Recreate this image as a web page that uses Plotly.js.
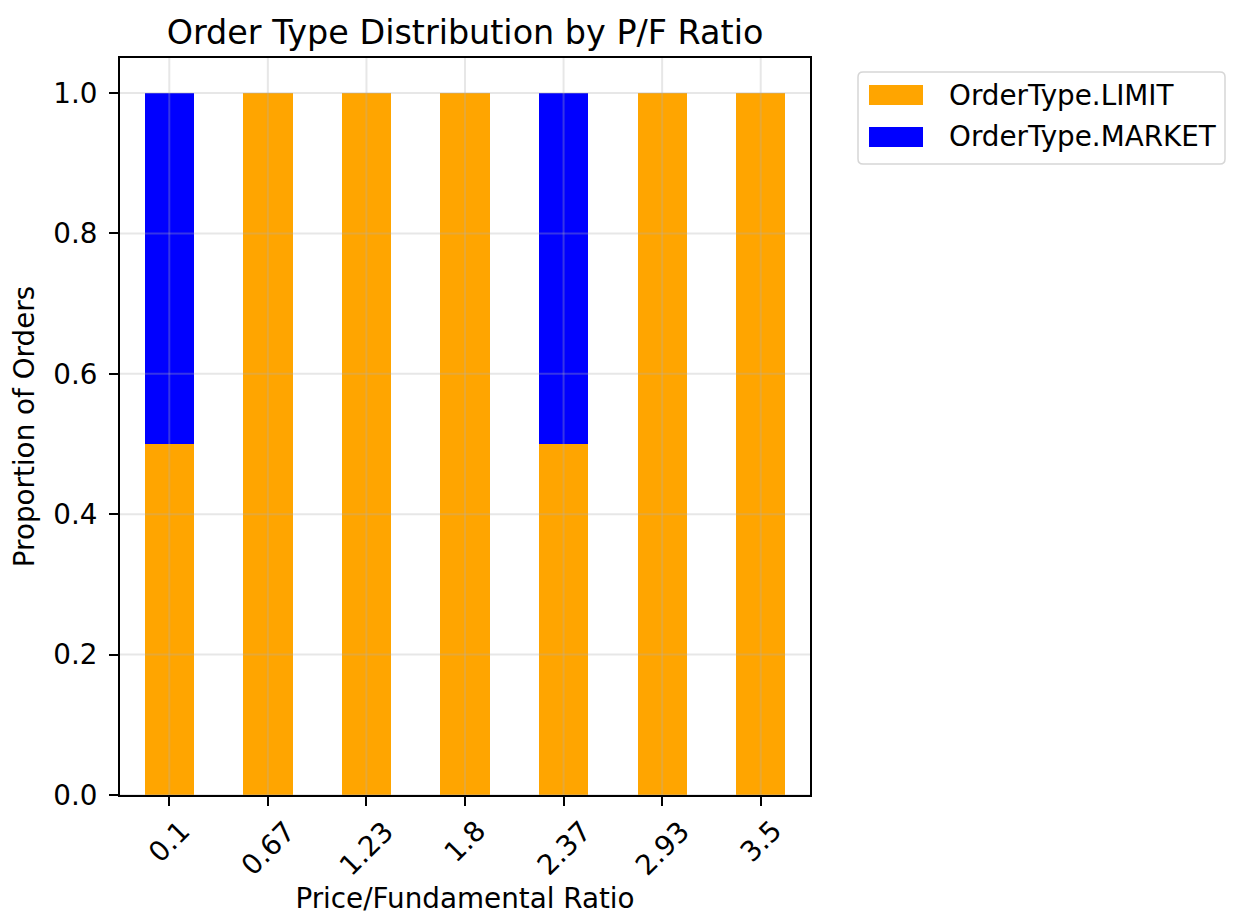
<!DOCTYPE html>
<html>
<head>
<meta charset="utf-8">
<script src="https://cdn.plot.ly/plotly-3.0.1.min.js"></script>
<style>html,body{margin:0;padding:0;background:#fff;}#chart{width:1233px;height:919px;}</style>
</head>
<body>
<div id="chart"></div>
<script>
// ---- data ----
const categories = ["0.1", "0.67", "1.23", "1.8", "2.37", "2.93", "3.5"];
const limitValues = [0.5, 1.0, 1.0, 1.0, 0.5, 1.0, 1.0];
const marketValues = [0.5, 0.0, 0.0, 0.0, 0.5, 0.0, 0.0];
const seriesNames = ["OrderType.LIMIT", "OrderType.MARKET"];
const seriesColors = ["#FFA500", "#0000FF"];
const yTickValues = [0.0, 0.2, 0.4, 0.6, 0.8, 1.0];
const titleText = "Order Type Distribution by P/F Ratio";
const xTitle = "Price/Fundamental Ratio";
const yTitle = "Proportion of Orders";

// ---- layout helpers ----
const W = 1233, H = 919;
const L = 120, R = 810, T = 58, B = 795;
const FONT = "DejaVu Sans, sans-serif";
const FS = 27.8;
const px = x => (x - L) / (R - L);
const py = y => (B - y) / (B - T);

const seriesValues = [limitValues, marketValues];
const traces = seriesValues.map((vals, i) => ({
  type: "bar",
  x: categories,
  y: vals,
  name: seriesNames[i],
  width: 0.5,
  marker: {color: seriesColors[i], line: {width: 0}},
  showlegend: false,
  hoverinfo: "x+y+name"
}));

const gridColor = "rgba(176,176,176,0.3)";
const shapes = [];
// grid lines drawn above bars (as in the reference); category positions by index
categories.forEach((c, i) => shapes.push({
  type: "line", xref: "x", yref: "paper", x0: i, x1: i, y0: 0, y1: 1,
  line: {color: gridColor, width: 2}, layer: "above"
}));
yTickValues.forEach(v => shapes.push({
  type: "line", xref: "paper", yref: "y", x0: 0, x1: 1, y0: v, y1: v,
  line: {color: gridColor, width: 2}, layer: "above"
}));

// legend box (rounded rect)
(function () {
  const x0 = 858, x1 = 1225, y0 = 72, y1 = 164, r = 5;
  const P = (x, y) => px(x) + "," + py(y);
  const path = "M" + P(x0 + r, y0) + " L" + P(x1 - r, y0) + " Q" + P(x1, y0) + " " + P(x1, y0 + r) +
    " L" + P(x1, y1 - r) + " Q" + P(x1, y1) + " " + P(x1 - r, y1) +
    " L" + P(x0 + r, y1) + " Q" + P(x0, y1) + " " + P(x0, y1 - r) +
    " L" + P(x0, y0 + r) + " Q" + P(x0, y0) + " " + P(x0 + r, y0) + " Z";
  shapes.push({type: "path", xref: "paper", yref: "paper", path: path,
    line: {color: "#d6d6d6", width: 1.5}, fillcolor: "rgba(255,255,255,0.8)", layer: "above"});
})();

const annotations = [];
const legendRows = [95, 137];
seriesNames.forEach((n, i) => {
  const yc = legendRows[i];
  shapes.push({type: "rect", xref: "paper", yref: "paper",
    x0: px(869), x1: px(923), y0: py(yc - 10), y1: py(yc + 10),
    fillcolor: seriesColors[i], line: {width: 0}, layer: "above"});
  annotations.push({xref: "paper", yref: "paper", x: px(947), y: py(yc),
    xanchor: "left", yanchor: "middle", text: n, showarrow: false,
    font: {family: FONT, size: FS, color: "#000"}});
});

// rotated x tick labels, centred on the ticks like the reference
categories.forEach((c, i) => annotations.push({
  xref: "x", yref: "paper", x: i, y: 0, yshift: -18,
  xanchor: "center", yanchor: "top", textangle: -45,
  text: c, showarrow: false, borderpad: 0,
  font: {family: FONT, size: FS, color: "#000"}
}));

const layout = {
  width: W, height: H,
  margin: {l: L, r: W - R, t: T, b: H - B, pad: 0},
  paper_bgcolor: "#fff", plot_bgcolor: "#fff",
  barmode: "stack",
  font: {family: FONT, size: FS, color: "#000"},
  title: {text: titleText, x: 0.5, xref: "paper", xanchor: "center",
    y: 1, yref: "paper", yanchor: "bottom", pad: {b: 14},
    font: {family: FONT, size: 33.4, color: "#000"}},
  xaxis: {
    type: "category", range: [-0.5, categories.length - 0.5],
    showgrid: false, zeroline: false,
    showline: true, mirror: true, linecolor: "#000", linewidth: 2,
    ticks: "outside", ticklen: 9, tickwidth: 2, tickcolor: "#000",
    showticklabels: false,
    title: {text: xTitle, standoff: 84, font: {family: FONT, size: FS, color: "#000"}},
    automargin: false, fixedrange: true
  },
  yaxis: {
    range: [0, 1.05], tickvals: yTickValues, tickformat: ".1f",
    showgrid: false, zeroline: false,
    showline: true, mirror: true, linecolor: "#000", linewidth: 2,
    ticks: "outside", ticklen: 9, tickwidth: 2, tickcolor: "#000",
    ticklabelstandoff: 6,
    tickfont: {family: FONT, size: FS, color: "#000"},
    title: {text: yTitle, standoff: 10, font: {family: FONT, size: FS, color: "#000"}},
    automargin: false, fixedrange: true
  },
  shapes: shapes,
  annotations: annotations,
  showlegend: false
};

Plotly.newPlot("chart", traces, layout, {displayModeBar: false, staticPlot: true});
</script>
</body>
</html>
